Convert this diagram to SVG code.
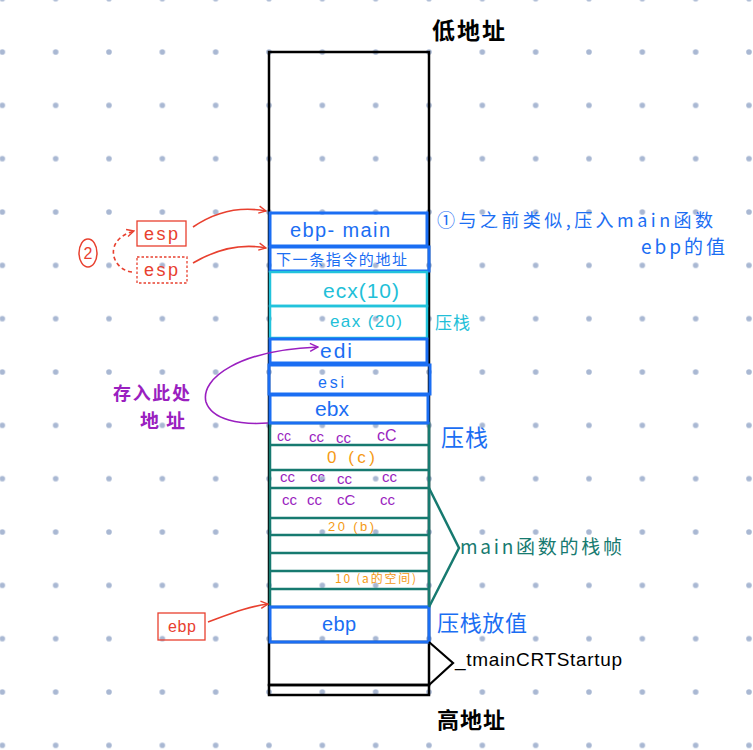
<svg xmlns="http://www.w3.org/2000/svg" width="753" height="750" viewBox="0 0 753 750">
<style>
.hand{font-family:"Liberation Sans","Noto Sans CJK SC",sans-serif;}
.cjk{font-family:"Noto Sans CJK SC","Liberation Sans",sans-serif;}
.blue{fill:#1b6ef3;}
.cyan{fill:#22bfd8;}
.purple{fill:#9a1fc0;}
.orange{fill:#f59a14;}
.teal{fill:#177a70;}
.red{fill:#e8402f;}
.blk{fill:#000;}
.cellB{fill:none;stroke:#1b6ef3;stroke-width:3;}
.cellC{fill:none;stroke:#22c3dc;stroke-width:2.5;}
.cellT{fill:none;stroke:#177a70;stroke-width:2.5;}
.redbox{fill:none;stroke:#e8402f;stroke-width:1.3;}
</style>
<defs>
<pattern id="dots" x="-24.33" y="-28" width="53.333" height="53.333" patternUnits="userSpaceOnUse">
<circle cx="26.667" cy="26.667" r="2.8" fill="#a9b8d3"/>
</pattern>
<marker id="arrR" viewBox="0 0 10 10" refX="9" refY="5" markerWidth="9" markerHeight="9" orient="auto" markerUnits="userSpaceOnUse">
<path d="M1,1 L9,5 L1,9" fill="none" stroke="#e8402f" stroke-width="1.5"/>
</marker>
<marker id="arrP" viewBox="0 0 10 10" refX="9" refY="5" markerWidth="10" markerHeight="10" orient="auto" markerUnits="userSpaceOnUse">
<path d="M1,1 L9,5 L1,9" fill="none" stroke="#9a1fc0" stroke-width="1.5"/>
</marker>
</defs>
<rect width="753" height="750" fill="#fff"/>
<rect width="753" height="750" fill="url(#dots)"/>

<g id="stack-frame">
<rect x="269" y="52" width="160" height="633" fill="none" stroke="#000" stroke-width="2.5"/>
<rect x="269" y="685" width="160" height="10" fill="none" stroke="#000" stroke-width="2.5"/>
<line x1="269" y1="642" x2="429" y2="642" stroke="#000" stroke-width="2.5"/>
</g>

<g id="main-frame">
<rect class="cellT" x="270" y="423" width="159" height="184"/>
<path class="cellT" d="M270,445H429M270,470H429M270,488H429M270,518H429M270,535H429M270,553H429M270,571H429M270,589H429"/>
<text class="hand purple" x="277" y="441" font-size="14">cc</text>
<text class="hand purple" x="309" y="442" font-size="15">cc</text>
<text class="hand purple" x="336" y="443" font-size="15">cc</text>
<text class="hand purple" x="377" y="441" font-size="16">cC</text>
<text class="hand orange" x="327" y="463" font-size="17" textLength="48">0 (c)</text>
<text class="hand purple" x="280" y="482" font-size="15">cc</text>
<text class="hand purple" x="310" y="482" font-size="15">cc</text>
<text class="hand purple" x="337" y="484" font-size="15">cc</text>
<text class="hand purple" x="382" y="482" font-size="15">cc</text>
<text class="hand purple" x="282" y="505" font-size="15">cc</text>
<text class="hand purple" x="307" y="505" font-size="15">cc</text>
<text class="hand purple" x="337" y="505" font-size="15">cC</text>
<text class="hand purple" x="380" y="505" font-size="15">cc</text>
<text class="hand orange" x="328" y="531" font-size="13" textLength="46">20 (b)</text>
<text class="cjk orange" x="335" y="583" font-size="12" textLength="81">10 (a的空间)</text>
</g>

<g id="cell-ebp-main">
<rect class="cellB" x="270" y="213" width="157" height="33"/>
<text class="hand blue" x="290" y="237" font-size="20" textLength="100">ebp- main</text>
</g>
<g id="cell-next-instr">
<rect class="cellB" x="270" y="247" width="159" height="24" stroke-width="2.5"/>
<text class="cjk blue" x="276" y="265" font-size="15" textLength="131">下一条指令的地址</text>
</g>
<g id="cell-ecx">
<rect class="cellC" x="270" y="272" width="157" height="34"/>
<text class="hand cyan" x="323" y="298" font-size="21" textLength="76">ecx(10)</text>
</g>
<g id="cell-eax">
<rect class="cellC" x="270" y="306" width="157" height="32"/>
<text class="hand cyan" x="330" y="327" font-size="17" textLength="72">eax (20)</text>
</g>
<g id="cell-edi">
<rect class="cellB" x="270" y="339" width="157" height="24" stroke-width="2.5"/>
<text class="hand blue" x="320" y="358" font-size="21" textLength="32">edi</text>
</g>
<g id="cell-esi">
<rect class="cellB" x="269" y="365" width="161" height="29" stroke-width="3.5"/>
<text class="hand blue" x="318" y="388" font-size="16" textLength="26">esi</text>
</g>
<g id="cell-ebx">
<rect class="cellB" x="270" y="395" width="158" height="28"/>
<text class="hand blue" x="315" y="416" font-size="21" textLength="34">ebx</text>
</g>
<g id="cell-ebp">
<rect class="cellB" x="270" y="607" width="159" height="35"/>
<text class="hand blue" x="322" y="631" font-size="20" textLength="34">ebp</text>
</g>

<g id="labels">
<text class="cjk blk" x="432" y="39" font-size="23" font-weight="bold" textLength="73">低地址</text>
<text class="cjk blk" x="437" y="728" font-size="22" font-weight="bold" textLength="68">高地址</text>
<text class="cjk blue" x="437" y="227" font-size="18" textLength="276">①与之前类似,压入main函数</text>
<text class="cjk blue" x="641" y="254" font-size="19" textLength="84">ebp的值</text>
<text class="cjk cyan" x="435" y="329" font-size="17" textLength="35">压栈</text>
<text class="cjk blue" x="441" y="446" font-size="23" textLength="47">压栈</text>
<text class="cjk teal" x="460" y="554" font-size="19" textLength="162">main函数的栈帧</text>
<text class="cjk blue" x="437" y="631" font-size="22" textLength="90">压栈放值</text>
<text class="hand blk" x="455" y="666" font-size="19" textLength="167">_tmainCRTStartup</text>
<text class="cjk purple" x="113" y="400" font-size="18" font-weight="bold" textLength="77">存入此处</text>
<text class="cjk purple" x="140" y="428" font-size="19" font-weight="bold" textLength="45">地址</text>
</g>

<g id="esp-1">
<rect class="redbox" x="137" y="221" width="49" height="25"/>
<text class="hand red" x="144" y="240" font-size="18" textLength="34">esp</text>
</g>
<g id="esp-2">
<rect class="redbox" x="137" y="257" width="50" height="26" stroke-dasharray="2.5,2"/>
<text class="hand red" x="144" y="276" font-size="18" textLength="34">esp</text>
</g>
<g id="step-2">
<ellipse cx="88" cy="253" rx="9" ry="14" fill="none" stroke="#e8402f" stroke-width="1.5"/>
<text class="hand red" x="88" y="259" font-size="16" text-anchor="middle">2</text>
</g>
<g id="ebp-reg">
<rect class="redbox" x="158" y="613" width="47" height="27"/>
<text class="hand red" x="168" y="632" font-size="16" textLength="28">ebp</text>
</g>

<g id="connectors" fill="none">
<path d="M193,227 C215,212 240,206 266,211" stroke="#e8402f" stroke-width="1.6" marker-end="url(#arrR)"/>
<path d="M193,263 C215,250 240,243 266,248" stroke="#e8402f" stroke-width="1.6" marker-end="url(#arrR)"/>
<path d="M132,272 C112,270 102,240 134,231" stroke="#e8402f" stroke-width="1.6" stroke-dasharray="4,3" marker-end="url(#arrR)"/>
<path d="M208,622 C230,614 250,606 268,604" stroke="#e8402f" stroke-width="1.6" marker-end="url(#arrR)"/>
<path d="M268,423 C240,425 212,420 206,402 C200,378 240,350 318,347" stroke="#9a1fc0" stroke-width="1.6" marker-end="url(#arrP)"/>
<polyline points="429,488 459,548 429,607" stroke="#177a70" stroke-width="2.5"/>
<polyline points="429,642 453,663 429,685" stroke="#000" stroke-width="2.2"/>
</g>
</svg>
